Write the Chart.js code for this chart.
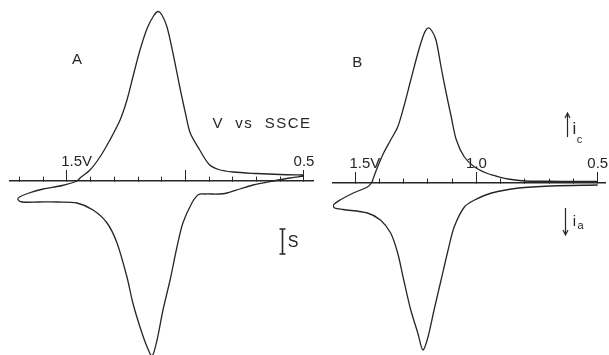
<!DOCTYPE html>
<html>
<head>
<meta charset="utf-8">
<script src="https://cdn.jsdelivr.net/npm/chart.js@4/dist/chart.umd.min.js"></script>
<style>
  html, body { margin: 0; background: #fff; }
  #wrap { position: relative; width: 609px; height: 355px; overflow: hidden; }
  canvas { position: absolute; top: 0; }
  #cA { left: 0; }
  #cB { left: 300px; }
</style>
</head>
<body>
<div id="wrap">
  <canvas id="cA" width="330" height="355"></canvas>
  <canvas id="cB" width="309" height="355"></canvas>
</div>
<script>
// Panel A loop: potential (V vs SSCE) and current (in units of the S bar)
const voltsA = [0.50, 0.60, 0.70, 0.80, 0.86, 0.90, 0.94, 0.98, 1.00, 1.025, 1.053, 1.078, 1.10, 1.116, 1.135,
  1.162, 1.192, 1.222, 1.247, 1.276, 1.319, 1.361, 1.403, 1.445, 1.458, 1.52, 1.60, 1.66, 1.70, 1.707,
  1.69, 1.62, 1.54, 1.458, 1.39, 1.331, 1.289, 1.247, 1.222, 1.192, 1.162, 1.141, 1.12, 1.095, 1.065,
  1.036, 1.011, 0.973, 0.945, 0.92, 0.86, 0.833, 0.77, 0.715, 0.63, 0.56, 0.50];
const currentA = [0.24, 0.26, 0.30, 0.36, 0.46, 0.66, 1.24, 1.92, 2.70, 3.80, 5.12, 6.16, 6.65, 6.78, 6.60,
  6.10, 5.24, 4.16, 3.24, 2.44, 1.64, 0.96, 0.44, 0.12, 0.00, -0.18, -0.32, -0.48, -0.64, -0.74,
  -0.84, -0.84, -0.84, -0.88, -1.16, -1.68, -2.48, -3.84, -4.88, -5.84, -6.64, -7.00, -6.36, -5.16, -3.96,
  -2.64, -1.68, -0.88, -0.54, -0.52, -0.52, -0.50, -0.32, -0.16, 0.00, 0.12, 0.20];

// Panel B loop
const voltsB = [0.50, 0.60, 0.70, 0.80, 0.87, 0.92, 0.96, 1.008, 1.05, 1.083, 1.104, 1.125, 1.146, 1.167, 1.185,
  1.20, 1.215, 1.238, 1.271, 1.30, 1.325, 1.354, 1.383, 1.408, 1.425, 1.433, 1.45, 1.508, 1.5625, 1.59,
  1.585, 1.55, 1.45, 1.396, 1.354, 1.325, 1.30, 1.271, 1.242, 1.221, 1.20, 1.175, 1.146, 1.117, 1.092,
  1.05, 1.008, 0.9375, 0.825, 0.69, 0.50];
const currentB = [0.06, 0.06, 0.07, 0.08, 0.16, 0.28, 0.40, 0.64, 1.04, 1.72, 2.64, 3.60, 4.64, 5.72, 6.10,
  6.20, 6.00, 5.32, 4.12, 3.04, 2.24, 1.72, 1.20, 0.64, 0.20, 0.00, -0.16, -0.40, -0.68, -0.88,
  -1.00, -1.06, -1.20, -1.48, -2.00, -2.80, -3.88, -5.08, -6.00, -6.68, -6.16, -5.08, -3.88, -2.68, -1.76,
  -0.96, -0.68, -0.40, -0.20, -0.12, -0.08];

// potential axis ticks
const minorTicksA = [1.7, 1.6, 1.5, 1.4, 1.3, 1.2, 1.1, 1.0, 0.9, 0.8, 0.7, 0.6, 0.5];
const minorTicksB = [1.5, 1.4, 1.3, 1.2, 1.1, 1.0, 0.9, 0.8, 0.7, 0.6, 0.5];
const majorTicks = [1.5, 1.0, 0.5];
const majorLabelsA = ['\u2002\u2002 1.5V', '', '0.5'];
const majorLabelsB = ['\u2002\u2002 1.5V', '1.0', '0.5'];

const ink = '#262626';
const fontName = '"Liberation Sans", Arial, sans-serif';

const notesPlugin = {
  id: 'notes',
  afterDraw(chart, args, opts) {
    const { ctx } = chart;
    const x = chart.scales.x, y = chart.scales.y;
    ctx.save();
    ctx.fillStyle = ink;
    ctx.strokeStyle = ink;
    ctx.lineWidth = 1.2;
    ctx.textAlign = 'center';
    ctx.textBaseline = 'middle';
    (opts.texts || []).forEach(t => {
      ctx.font = (t.size || 15) + 'px ' + fontName;
      ctx.letterSpacing = (t.spacing || 0) + 'px';
      ctx.fillText(t.text, x.getPixelForValue(t.v), y.getPixelForValue(t.i));
    });
    ctx.letterSpacing = '0px';
    (opts.arrows || []).forEach(a => {
      const px = Math.round(x.getPixelForValue(a.v)) + 0.5;
      const y0 = y.getPixelForValue(a.from), y1 = y.getPixelForValue(a.to);
      const d = Math.sign(y1 - y0);
      ctx.beginPath();
      ctx.moveTo(px, y0); ctx.lineTo(px, y1);
      ctx.moveTo(px - 2.5, y1 - d * 5); ctx.lineTo(px, y1); ctx.lineTo(px + 2.5, y1 - d * 5);
      ctx.stroke();
    });
    (opts.bars || []).forEach(b => {
      const px = Math.round(x.getPixelForValue(b.v)) + 0.5;
      const y0 = y.getPixelForValue(b.from), y1 = y.getPixelForValue(b.to);
      ctx.lineWidth = 1.6;
      ctx.beginPath();
      ctx.moveTo(px, y0); ctx.lineTo(px, y1);
      ctx.moveTo(px - 3, y0); ctx.lineTo(px + 3, y0);
      ctx.moveTo(px - 3, y1); ctx.lineTo(px + 3, y1);
      ctx.stroke();
    });
    ctx.restore();
  }
};

function makeScales(vMin, vMax, iMin, iMax, minorTicks, majorLabels) {
  return {
    x: {
      type: 'linear', reverse: true, min: vMin, max: vMax, position: { y: 0 },
      afterBuildTicks: s => { s.ticks = minorTicks.map(v => ({ value: v })); },
      ticks: { display: false },
      grid: { drawOnChartArea: false, tickLength: -5, tickWidth: 1, tickColor: ink },
      border: { display: true, color: ink, width: 1.6 }
    },
    x2: {
      type: 'linear', reverse: true, min: vMin, max: vMax, position: { y: 0 },
      afterBuildTicks: s => { s.ticks = majorTicks.map(v => ({ value: v })); },
      ticks: {
        display: true, autoSkip: false, maxRotation: 0, minRotation: 0, padding: -17,
        color: ink, font: { family: fontName, size: 15 },
        callback: (v, idx) => majorLabels[idx]
      },
      grid: { drawOnChartArea: false, tickLength: -11, tickWidth: 1, tickColor: ink },
      border: { display: false }
    },
    y: { type: 'linear', display: false, min: iMin, max: iMax }
  };
}

function makeChart(id, volts, current, scales, pad, notes) {
  return new Chart(document.getElementById(id), {
    type: 'scatter',
    data: {
      datasets: [{
        data: volts.map((v, k) => ({ x: v, y: current[k] })),
        showLine: true,
        borderColor: ink,
        borderWidth: 1.3,
        pointRadius: 0,
        tension: 0.3,
        fill: false
      }]
    },
    options: {
      responsive: false,
      animation: false,
      layout: { padding: pad },
      scales: scales,
      plugins: { legend: { display: false }, tooltip: { enabled: false }, notes: notes }
    },
    plugins: [notesPlugin]
  });
}

makeChart('cA', voltsA, currentA,
  makeScales(0.462, 1.7405, -6.96, 7.24, minorTicksA, majorLabelsA),
  { left: 10, right: 17, top: 0, bottom: 0 },
  {
    texts: [
      { text: 'A', v: 1.458, i: 4.84 },
      { text: 'V  vs  SSCE', v: 0.677, i: 2.28, spacing: 1.5 },
      { text: 'S', v: 0.546, i: -2.48, size: 16 }
    ],
    bars: [{ v: 0.593, from: -1.92, to: -2.92 }]
  });

makeChart('cB', voltsB, currentB,
  makeScales(0.47, 1.5917, -6.88, 7.32, minorTicksB, majorLabelsB),
  { left: 33, right: 4, top: 0, bottom: 0 },
  {
    texts: [
      { text: 'B', v: 1.492, i: 4.8 },
      { text: 'i', v: 0.596, i: 2.16, size: 17 },
      { text: 'c', v: 0.575, i: 1.72, size: 11 },
      { text: 'i', v: 0.596, i: -1.56, size: 15 },
      { text: 'a', v: 0.571, i: -1.70, size: 11 }
    ],
    arrows: [
      { v: 0.625, from: 1.84, to: 2.8 },
      { v: 0.633, from: -1.0, to: -2.08 }
    ]
  });
</script>
</body>
</html>
